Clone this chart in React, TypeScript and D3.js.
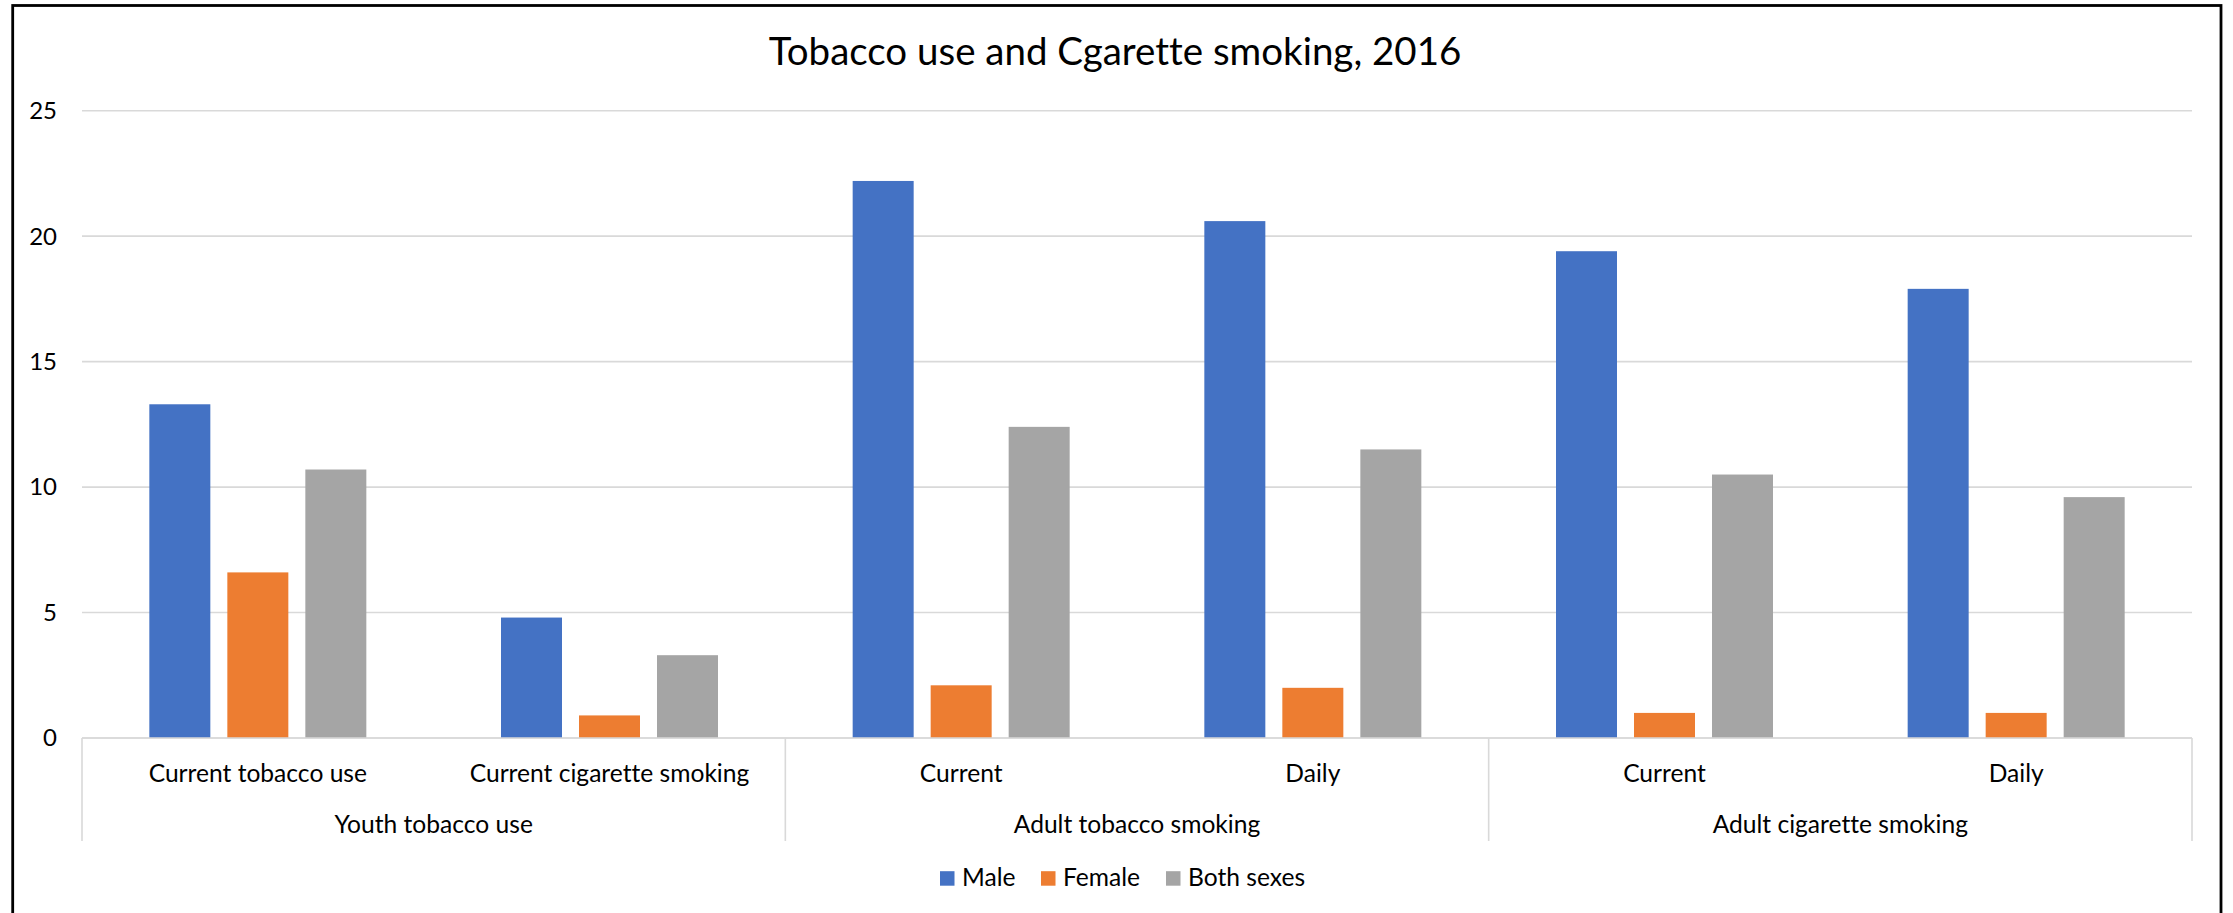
import React, { useEffect, useRef } from "react";
import * as d3 from "d3";

const TITLE = "Tobacco use and Cgarette smoking, 2016";
const categories = ["Current tobacco use", "Current cigarette smoking", "Current", "Daily", "Current", "Daily"];
const groups = ["Youth tobacco use", "Adult tobacco smoking", "Adult cigarette smoking"];
const groupSpans = [2, 2, 2];
const seriesNames = ["Male", "Female", "Both sexes"];
const seriesColors = ["#4472C4", "#ED7D31", "#A5A5A5"];
const male = [13.3, 4.8, 22.2, 20.6, 19.4, 17.9];
const female = [6.6, 0.9, 2.1, 2.0, 1.0, 1.0];
const both = [10.7, 3.3, 12.4, 11.5, 10.5, 9.6];
const yTicks = [0, 5, 10, 15, 20, 25];

const W = 2233;
const H = 913;
const FONT = "Lato, 'Open Sans', sans-serif";

export default function App() {
  const ref = useRef<SVGSVGElement>(null);

  useEffect(() => {
    const svg = d3.select(ref.current);
    svg.selectAll("*").remove();
    svg.style("font-variant-ligatures", "none");

    const left = 82, right = 2192, top = 110.7, bottom = 738;
    const series = [male, female, both];

    // frame
    svg.append("rect").attr("x", 0).attr("y", 0).attr("width", W).attr("height", H).attr("fill", "#fff");
    svg.append("rect")
      .attr("x", 12.7).attr("y", 5.5).attr("width", 2221 - 12.7).attr("height", H + 20)
      .attr("fill", "none").attr("stroke", "#000").attr("stroke-width", 2.8);

    const y = d3.scaleLinear().domain([0, 25]).range([bottom, top]);
    const idx = categories.map((_, i) => String(i));
    const x0 = d3.scaleBand<string>().domain(idx).range([left, right]).padding(0);
    const groupW = 217;
    const x1 = d3.scaleBand<string>().domain(seriesNames)
      .range([(x0.bandwidth() - groupW) / 2, (x0.bandwidth() + groupW) / 2])
      .paddingInner(0.218).paddingOuter(0);

    // title
    svg.append("text").attr("x", 1115).attr("y", 65).attr("text-anchor", "middle")
      .attr("font-family", FONT).attr("font-size", 38.5).attr("fill", "#000").text(TITLE);

    // gridlines
    svg.append("g").selectAll("line").data(yTicks).join("line")
      .attr("x1", left).attr("x2", right)
      .attr("y1", (d) => y(d)).attr("y2", (d) => y(d))
      .attr("stroke", "#d9d9d9").attr("stroke-width", 1.6);

    // y tick labels
    svg.append("g").selectAll("text").data(yTicks).join("text")
      .attr("x", 57).attr("y", (d) => y(d)).attr("dy", "0.35em")
      .attr("text-anchor", "end").attr("font-family", FONT).attr("font-size", 24)
      .attr("fill", "#000").text((d) => String(d));

    // bars
    series.forEach((vals, si) => {
      svg.append("g").selectAll("rect").data(vals).join("rect")
        .attr("x", (_, i) => (x0(String(i)) as number) + (x1(seriesNames[si]) as number))
        .attr("width", x1.bandwidth())
        .attr("y", (d) => y(d))
        .attr("height", (d) => bottom - y(d))
        .attr("fill", seriesColors[si]);
    });

    // axis line
    svg.append("line").attr("x1", left).attr("x2", right).attr("y1", bottom).attr("y2", bottom)
      .attr("stroke", "#d9d9d9").attr("stroke-width", 1.6);

    // group separators
    const sepIdx: number[] = [0];
    let acc = 0;
    groupSpans.forEach((s) => { acc += s; sepIdx.push(acc); });
    const sepX = (k: number) => left + k * x0.step();
    svg.append("g").selectAll("line").data(sepIdx).join("line")
      .attr("x1", (k) => sepX(k)).attr("x2", (k) => sepX(k))
      .attr("y1", bottom).attr("y2", 841)
      .attr("stroke", "#d9d9d9").attr("stroke-width", 1.6);

    // category labels
    svg.append("g").selectAll("text").data(categories).join("text")
      .attr("x", (_, i) => (x0(String(i)) as number) + x0.bandwidth() / 2)
      .attr("y", 782).attr("text-anchor", "middle")
      .attr("font-family", FONT).attr("font-size", 24.6).attr("fill", "#000")
      .text((d) => d);

    // group labels
    svg.append("g").selectAll("text").data(groups).join("text")
      .attr("x", (_, gi) => (sepX(sepIdx[gi]) + sepX(sepIdx[gi + 1])) / 2)
      .attr("y", 833).attr("text-anchor", "middle")
      .attr("font-family", FONT).attr("font-size", 24.6).attr("fill", "#000")
      .text((d) => d);

    // legend
    const legendX = [940, 1041, 1166];
    const lg = svg.append("g");
    seriesNames.forEach((name, i) => {
      lg.append("rect").attr("x", legendX[i]).attr("y", 871.2).attr("width", 14.5).attr("height", 14.5)
        .attr("fill", seriesColors[i]);
      lg.append("text").attr("x", legendX[i] + 22).attr("y", 885.5)
        .attr("font-family", FONT).attr("font-size", 24.6).attr("fill", "#000").text(name);
    });
  }, []);

  return (
    <svg ref={ref} width={W} height={H} style={{ position: "absolute", left: 0, top: 0, display: "block" }} />
  );
}
